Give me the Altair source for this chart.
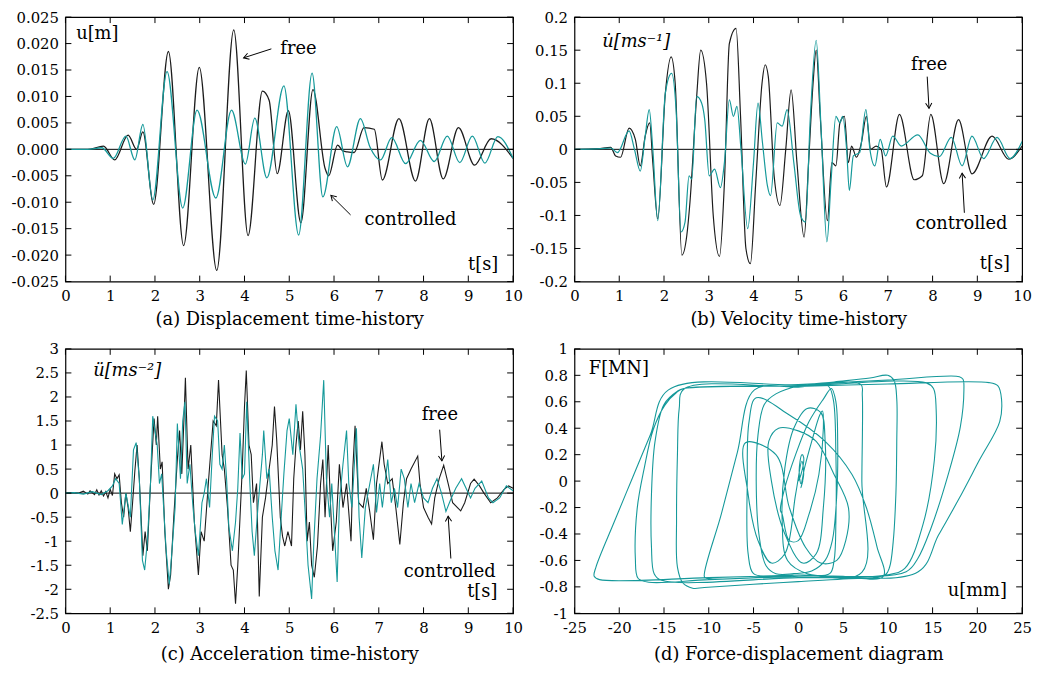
import math
import altair as alt
import pandas as pd

FONT = "DejaVu Serif"
BLACK = "#1c1c1c"
TEAL = "#15999a"
W, H = 452, 267
TICK = 6

# ---------------- (a) displacement [t (s), u (m)] ----------------
DISP_FREE = [(0, 0), (0.5, 0), (0.85, 0.0006), (1.1, -0.002), (1.4, 0.0027), (1.59, 0.0), (1.73, 0.0033),
             (1.97, -0.0104), (2.3, 0.0185), (2.64, -0.0182), (2.99, 0.0155), (3.38, -0.0229), (3.76, 0.0226),
             (4.08, -0.0163), (4.40, 0.011), (4.55, 0.0093), (4.73, -0.0046), (4.98, 0.0073), (5.26, -0.0139),
             (5.53, 0.0113), (5.8, -0.0036), (5.88, -0.005), (6.08, 0.0008), (6.2, -0.0003), (6.3, -0.0005),
             (6.45, -0.0006), (6.67, 0.0041), (6.9, 0.0038), (7.08, -0.0058), (7.45, 0.0058), (7.82, -0.006),
             (8.13, 0.0058), (8.44, -0.0056), (8.78, 0.0041), (9.14, -0.003), (9.51, 0.002), (10.0, -0.0017)]
DISP_CTRL = [(0, 0), (0.5, 0), (0.81, 0.0003), (1.07, -0.0017), (1.35, 0.0025), (1.55, -0.002), (1.73, 0.0047),
             (1.95, -0.0096), (2.27, 0.0147), (2.62, -0.0111), (2.94, 0.0074), (3.36, -0.0092), (3.71, 0.0074),
             (4.02, -0.0028), (4.23, 0.0059), (4.5, -0.0054), (4.88, 0.012), (5.21, -0.0162), (5.51, 0.0144),
             (5.75, -0.009), (6.06, 0.0043), (6.3, -0.0033), (6.59, 0.0058), (6.8, 0.0005), (7.04, -0.002),
             (7.29, 0.0022), (7.6, -0.0027), (7.93, 0.0017), (8.24, -0.0023), (8.53, 0.0025), (8.81, -0.0025),
             (9.09, 0.0025), (9.37, -0.0026), (9.66, 0.0024), (10.0, -0.0017)]

# ---------------- (b) velocity [t (s), v (m/s)] ----------------
VEL_FREE = [(0, 0), (0.52, 0.001), (0.81, 0.003), (0.92, -0.010), (1.03, -0.012), (1.22, 0.032), (1.36, 0.015),
            (1.47, -0.025), (1.58, 0.020), (1.68, 0.040), (1.75, -0.020), (1.86, -0.105), (2.03, 0.085),
            (2.16, 0.140), (2.25, 0.100), (2.40, -0.160), (2.51, -0.130), (2.58, -0.080), (2.73, 0.080),
            (2.82, 0.150), (2.95, 0.100), (3.10, -0.100), (3.24, -0.162), (3.35, -0.050), (3.46, 0.160),
            (3.61, 0.183), (3.71, 0.050), (3.83, -0.150), (3.93, -0.173), (4.05, -0.050), (4.19, 0.100),
            (4.26, 0.128), (4.33, 0.110), (4.46, -0.040), (4.59, -0.085), (4.72, 0.000), (4.84, 0.090),
            (4.97, -0.020), (5.13, -0.133), (5.23, -0.020), (5.33, 0.100), (5.40, 0.150), (5.49, 0.050),
            (5.65, -0.108), (5.75, -0.020), (5.84, -0.025), (5.93, 0.040), (6.03, 0.050), (6.12, -0.020),
            (6.19, 0.005), (6.30, -0.012), (6.41, 0.010), (6.52, 0.050), (6.62, 0.000), (6.74, 0.005),
            (6.85, 0.000), (6.97, -0.057), (7.26, 0.053), (7.59, -0.046), (7.77, -0.040), (7.96, 0.053),
            (8.25, -0.052), (8.58, 0.045), (8.88, -0.037), (9.33, 0.020), (9.70, -0.015), (10.0, 0.005)]
VEL_CTRL = [(0, 0), (0.6, 0.001), (0.81, 0.002), (0.96, -0.005), (1.22, 0.028), (1.34, 0.0), (1.47, -0.033),
            (1.58, 0.020), (1.67, 0.060), (1.75, 0.0), (1.86, -0.108), (2.03, 0.085), (2.17, 0.115), (2.27, 0.060),
            (2.38, -0.125), (2.47, -0.110), (2.56, -0.040), (2.62, -0.045), (2.73, 0.080), (2.84, 0.070),
            (2.91, 0.045), (3.01, -0.040), (3.13, -0.030), (3.26, -0.058), (3.35, -0.020), (3.46, 0.075),
            (3.55, 0.050), (3.63, 0.065), (3.72, 0.0), (3.87, -0.120), (4.00, -0.020), (4.10, 0.070),
            (4.20, 0.010), (4.31, -0.055), (4.38, -0.070), (4.53, 0.040), (4.64, 0.035), (4.75, 0.060),
            (4.90, -0.020), (5.05, -0.100), (5.16, -0.110), (5.27, 0.050), (5.40, 0.165), (5.51, 0.030),
            (5.64, -0.140), (5.73, -0.050), (5.84, 0.050), (5.93, 0.040), (5.99, 0.050), (6.08, 0.0),
            (6.14, -0.062), (6.23, -0.010), (6.37, -0.005), (6.51, 0.060), (6.60, 0.0), (6.71, -0.025),
            (6.83, 0.015), (6.95, -0.010), (7.11, 0.020), (7.30, 0.005), (7.67, 0.022), (7.95, -0.006),
            (8.15, -0.011), (8.42, 0.018), (8.66, -0.025), (8.88, 0.020), (9.14, -0.014), (9.44, 0.018),
            (9.73, -0.014), (10.0, 0.012)]

# ---------------- (c) acceleration [t (s), a (m/s2)] ----------------
ACC_FREE = [(0, 0), (0.15, 0.01), (0.3, 0.0), (0.4, 0.04), (0.5, -0.02), (0.55, 0.05), (0.65, -0.03), (0.7, 0.07),
            (0.75, -0.04), (0.8, 0.05), (0.85, -0.06), (0.9, 0.03), (0.95, -0.1), (1.0, 0.08), (1.05, -0.05),
            (1.1, 0.4), (1.15, 0.3), (1.2, 0.38), (1.25, -0.2), (1.3, -0.5), (1.35, 0.0), (1.4, -0.3), (1.45, -0.8),
            (1.5, -0.2), (1.55, 0.45), (1.6, 1.0), (1.65, 0.3), (1.73, -1.3), (1.78, -0.8), (1.83, -1.2), (1.9, 0.2),
            (1.98, 1.55), (2.03, 1.0), (2.06, 1.6), (2.12, 0.5), (2.16, 0.65), (2.22, -0.8), (2.3, -2.0),
            (2.35, -1.7), (2.42, -0.5), (2.5, 0.7), (2.55, 1.3), (2.6, 0.4), (2.65, 1.6), (2.68, 2.4), (2.74, 0.5),
            (2.8, 1.0), (2.88, -0.6), (2.97, -1.7), (3.03, -0.8), (3.1, -1.0), (3.2, 0.3), (3.3, 1.5), (3.37, 1.4),
            (3.42, 2.35), (3.5, 0.8), (3.55, 0.5), (3.62, -0.3), (3.7, -1.5), (3.75, -1.6), (3.8, -2.3),
            (3.85, -1.5), (3.9, -0.5), (3.95, 0.5), (4.0, 1.8), (4.04, 2.55), (4.1, 1.0), (4.15, 0.8), (4.2, -0.2),
            (4.27, 0.2), (4.33, -2.15), (4.4, -0.5), (4.47, -0.1), (4.55, 0.5), (4.62, 1.0), (4.67, 1.8),
            (4.72, 1.1), (4.8, -0.5), (4.85, -0.9), (4.9, -1.1), (4.97, -0.8), (5.05, -1.1), (5.1, 0.3), (5.15, 1.0),
            (5.2, 1.5), (5.25, 0.9), (5.3, 1.7), (5.35, 0.8), (5.4, -1.0), (5.45, -0.6), (5.5, -1.5), (5.56, -1.75),
            (5.63, -1.1), (5.7, 0.2), (5.75, 0.7), (5.8, -0.5), (5.87, 1.0), (5.92, -0.2), (5.97, -1.2),
            (6.05, -0.6), (6.12, 0.6), (6.2, -0.3), (6.28, 0.2), (6.38, -1.0), (6.42, 0.5), (6.47, 1.4),
            (6.55, -0.2), (6.65, -0.3), (6.72, 0.1), (6.8, -0.4), (6.88, -0.97), (6.95, 0.2), (7.07, 1.07),
            (7.12, 0.6), (7.2, 0.2), (7.3, 0.3), (7.38, -0.3), (7.47, -1.07), (7.55, -0.2), (7.62, 0.3),
            (7.72, 0.5), (7.87, 0.77), (7.92, 0.2), (8.0, -0.3), (8.1, -0.5), (8.18, -0.64), (8.25, -0.1),
            (8.35, 0.3), (8.45, 0.58), (8.55, 0.2), (8.65, -0.2), (8.83, -0.37), (8.92, -0.2), (9.05, 0.2),
            (9.13, 0.29), (9.25, 0.15), (9.35, 0.0), (9.5, -0.2), (9.65, -0.1), (9.8, 0.08), (9.9, 0.15),
            (10.0, 0.1)]
ACC_CTRL = [(0, 0), (0.2, 0.01), (0.4, -0.02), (0.6, 0.03), (0.8, -0.03), (0.95, 0.05), (1.05, 0.15), (1.12, 0.3),
            (1.2, 0.2), (1.27, -0.65), (1.35, 0.0), (1.45, -0.5), (1.52, 0.9), (1.58, 1.05), (1.65, 0.3),
            (1.72, -1.4), (1.77, -1.6), (1.83, -1.0), (1.9, 0.2), (1.95, 1.6), (2.05, 1.0), (2.1, 0.2), (2.15, 0.4),
            (2.25, -1.2), (2.32, -1.9), (2.38, -1.2), (2.45, -0.3), (2.5, 1.45), (2.57, 0.3), (2.62, 1.5),
            (2.67, 1.9), (2.72, 0.2), (2.78, 0.6), (2.85, -0.3), (2.9, -0.8), (2.97, -1.3), (3.05, -0.2),
            (3.1, 0.0), (3.15, 0.3), (3.22, -0.3), (3.28, 0.8), (3.33, 1.6), (3.4, 1.5), (3.45, 0.6), (3.5, 0.5),
            (3.55, 1.0), (3.6, 0.3), (3.65, -0.7), (3.73, -1.2), (3.8, -0.6), (3.85, 0.1), (3.9, 1.25),
            (3.95, 0.3), (4.0, 0.4), (4.05, 1.9), (4.12, 0.2), (4.17, -0.8), (4.22, -1.3), (4.3, -0.3), (4.4, 0.8),
            (4.43, 1.3), (4.5, 0.3), (4.55, 0.5), (4.62, -0.5), (4.68, -1.2), (4.75, -1.6), (4.82, -0.5),
            (4.88, 0.4), (4.95, 1.3), (5.0, 1.55), (5.08, 0.8), (5.15, 1.85), (5.22, 1.0), (5.3, 0.5), (5.35, -0.3),
            (5.42, -1.5), (5.5, -2.2), (5.55, -1.0), (5.62, 0.3), (5.7, 1.2), (5.77, 2.35), (5.83, 0.3),
            (5.9, -0.5), (5.95, 0.2), (6.02, -1.0), (6.07, -1.85), (6.12, -0.2), (6.2, 0.6), (6.28, 1.3),
            (6.33, 0.2), (6.4, -0.3), (6.5, 1.35), (6.56, -0.5), (6.62, -1.35), (6.7, -0.3), (6.8, 0.2),
            (6.88, 0.6), (6.95, -0.4), (7.02, 0.2), (7.08, -0.3), (7.15, 0.3), (7.2, 0.7), (7.28, -0.2),
            (7.35, 0.1), (7.42, -0.3), (7.5, 0.5), (7.57, 0.3), (7.65, -0.3), (7.72, 0.2), (7.8, -0.2), (7.9, 0.2),
            (8.0, -0.1), (8.1, -0.2), (8.2, 0.1), (8.3, 0.3), (8.4, 0.0), (8.5, -0.38), (8.6, -0.15), (8.72, 0.1),
            (8.85, 0.3), (8.95, 0.1), (9.05, -0.1), (9.15, 0.1), (9.3, 0.25), (9.45, -0.1), (9.55, -0.2),
            (9.7, -0.1), (9.85, 0.15), (10.0, 0.05)]

# ---------------- (d) force-displacement path [u (mm), F (MN)] ----------------
FD_PATH = [
    (0, 0), (0.3, 0.05), (0.6, 0.18), (0.4, 0.2), (0.1, 0.08), (0.3, -0.02), (0.7, 0.1),
    (1.5, 0.3), (2.4, 0.5), (2.7, 0.53), (2.8, 0.4), (2.3, 0.05), (1.2, -0.25), (0.0, -0.45), (-1.0, -0.45),
    (-1.8, -0.25), (-2.0, -0.22), (-1.5, -0.05), (-0.3, 0.2),
    (1.2, 0.45), (2.8, 0.62), (3.7, 0.7), (4.2, 0.6), (4.4, 0.3), (4.3, -0.1), (3.8, -0.45), (3.0, -0.6),
    (1.5, -0.68), (-0.5, -0.7), (-2.5, -0.7), (-3.6, -0.64), (-4.4, -0.4), (-4.7, 0.0), (-4.5, 0.35),
    (-3.8, 0.58), (-2.5, 0.66),
    (0.0, 0.72), (4.0, 0.75), (8.0, 0.78), (10.0, 0.80), (10.7, 0.76), (11.0, 0.62), (11.0, 0.3), (10.9, -0.1),
    (10.6, -0.46), (10.2, -0.65), (9.7, -0.71), (5.0, -0.74), (0.0, -0.76), (-5.0, -0.78), (-10.5, -0.805),
    (-11.8, -0.81), (-12.9, -0.77), (-13.5, -0.65), (-13.6, -0.3), (-13.5, 0.2), (-13.3, 0.55), (-12.8, 0.695),
    (0.0, 0.715), (10.0, 0.735), (21.3, 0.745), (22.3, 0.72), (22.7, 0.62), (22.5, 0.45), (20.2, 0.155),
    (17.9, -0.14), (15.65, -0.41), (13.4, -0.685), (0.0, -0.71), (-10.0, -0.73), (-22.2, -0.745),
    (-22.8, -0.72), (-22.6, -0.65), (-20.6, -0.315), (-18.55, 0.02), (-16.5, 0.355), (-14.5, 0.69),
    (0.0, 0.73), (10.0, 0.765), (18.0, 0.79), (18.4, 0.77), (18.5, 0.69), (18.1, 0.41), (16.7, 0.04),
    (14.8, -0.36), (13.35, -0.585), (12.05, -0.685), (0.0, -0.72), (-10.0, -0.745), (-16.7, -0.765),
    (-17.9, -0.735), (-18.2, -0.585), (-18.0, -0.21), (-17.2, 0.1), (-16.2, 0.39), (-14.9, 0.575),
    (-13.6, 0.67), (-12.8, 0.70),
    (0.0, 0.72), (14.3, 0.743), (15.1, 0.70), (15.4, 0.54), (15.2, 0.16), (13.9, -0.335), (11.9, -0.66),
    (9.85, -0.71), (0.0, -0.73), (-15.3, -0.75), (-16.1, -0.7), (-16.4, -0.5), (-16.4, -0.1), (-16.0, 0.3),
    (-15.0, 0.58), (-13.5, 0.68), (-12.8, 0.70),
    (0.0, 0.72), (7.0, 0.73), (7.15, 0.65), (7.1, 0.0), (7.1, -0.69), (0.0, -0.71), (-10.3, -0.735),
    (-10.5, -0.72), (-8.6, -0.25), (-6.8, 0.22), (-4.9, 0.69),
    (0.0, 0.71), (3.3, 0.72), (3.9, 0.62), (4.2, 0.2), (4.2, -0.3), (4.0, -0.6), (3.5, -0.7), (0.0, -0.71),
    (-2.7, -0.72), (-5.0, -0.7), (-5.6, -0.55), (-5.7, 0.0), (-5.5, 0.45), (-4.7, 0.63),
    (-1.0, 0.5), (3.0, 0.3), (6.0, 0.05), (7.6, -0.2), (8.8, -0.5), (9.5, -0.72), (5.0, -0.72), (1.0, -0.7),
    (-1.2, -0.6), (-1.8, -0.3), (-1.5, 0.1), (-0.5, 0.4), (1.0, 0.55), (2.5, 0.52), (3.0, 0.3), (2.8, -0.2),
    (2.0, -0.55), (0.5, -0.62),
    (-1.5, -0.4), (-3.0, 0.0), (-3.3, 0.3), (-2.2, 0.4), (0.0, 0.38), (2.0, 0.3), (4.0, 0.05), (5.6, -0.2),
    (5.3, -0.45), (4.3, -0.6), (2.5, -0.62), (0.8, -0.5), (-1.0, -0.2), (-2.5, 0.2), (-5.9, 0.29),
    (-5.6, -0.1), (-4.5, -0.45), (-3.0, -0.62), (-1.5, -0.55), (-0.3, -0.1), (0.4, 0.15), (0.6, 0.05),
    (0.3, -0.05), (0.5, 0.0)]

# ---------------- axes ----------------
T_TICKS = [0, 1, 2, 3, 4, 5, 6, 7, 8, 9, 10]
DISP_TICKS = [-0.025, -0.02, -0.015, -0.01, -0.005, 0, 0.005, 0.01, 0.015, 0.02, 0.025]
VEL_TICKS = [-0.2, -0.15, -0.1, -0.05, 0, 0.05, 0.1, 0.15, 0.2]
ACC_TICKS = [-2.5, -2, -1.5, -1, -0.5, 0, 0.5, 1, 1.5, 2, 2.5, 3]
F_TICKS = [-1, -0.8, -0.6, -0.4, -0.2, 0, 0.2, 0.4, 0.6, 0.8, 1]
U_TICKS = [-25, -20, -15, -10, -5, 0, 5, 10, 15, 20, 25]

ARROW_PATH = "M -1 -0.6 L 0 0 L -1 0.6"


def lbl(fmt):
    return f"(datum.value < 0 ? '-' : '') + format(abs(datum.value), '{fmt}')"


def panel(series, xdom, ydom, xticks, yticks, xfmt, yfmt, caption, texts, arrows, extent, cap_pad,
          zero=True, ordered=False):
    xs = alt.Scale(domain=xdom, nice=False, zero=False)
    ys = alt.Scale(domain=ydom, nice=False, zero=False)
    xaxis = alt.Axis(values=xticks, labelExpr=lbl(xfmt), title=caption, labelOverlap=False, labelFlush=False,
                     titlePadding=cap_pad)
    yaxis = alt.Axis(values=yticks, labelExpr=lbl(yfmt), title=None, labelOverlap=False, labelFlush=False,
                     minExtent=extent, maxExtent=extent)

    def X(f):
        return alt.X(f, type="quantitative", scale=xs, axis=xaxis)

    def Y(f):
        return alt.Y(f, type="quantitative", scale=ys, axis=yaxis)

    layers = []
    if zero:
        layers.append(alt.Chart(pd.DataFrame({"x": [xdom[0]], "y": [0]})).mark_rule(color="black", strokeWidth=1)
                      .encode(y=Y("y")))
    for pts, color, interp, sw in series:
        df = pd.DataFrame(pts, columns=["x", "y"])
        df["i"] = range(len(df))
        enc = dict(x=X("x"), y=Y("y"))
        if ordered:
            enc["order"] = alt.Order("i:Q")
        layers.append(alt.Chart(df).mark_line(color=color, strokeWidth=sw, interpolate=interp, clip=True)
                      .encode(**enc))
    for (tx, ty, text, align, size, style) in texts:
        df = pd.DataFrame({"x": [tx], "y": [ty], "label": [text]})
        layers.append(alt.Chart(df).mark_text(align=align, baseline="middle", font=FONT, fontSize=size,
                                             fontStyle=style, color="black")
                      .encode(x=X("x"), y=Y("y"), text="label:N"))
    for tail, tip in arrows:
        df = pd.DataFrame({"x": [tail[0], tip[0]], "y": [tail[1], tip[1]], "i": [0, 1]})
        layers.append(alt.Chart(df).mark_line(color="black", strokeWidth=1)
                      .encode(x=X("x"), y=Y("y"), order=alt.Order("i:Q")))
        dx = (tip[0] - tail[0]) / (xdom[1] - xdom[0]) * W
        dy = -(tip[1] - tail[1]) / (ydom[1] - ydom[0]) * H
        ang = math.degrees(math.atan2(dy, dx)) % 360
        hd = pd.DataFrame({"x": [tip[0]], "y": [tip[1]]})
        layers.append(alt.Chart(hd).mark_point(shape=ARROW_PATH, filled=False, size=110, angle=ang,
                                               color="black", strokeWidth=1, opacity=1)
                      .encode(x=X("x"), y=Y("y")))
    ty = pd.DataFrame({"v": yticks})
    tx = pd.DataFrame({"v": xticks})
    tick = dict(color="black", strokeWidth=1)
    layers += [
        alt.Chart(ty).mark_rule(**tick).encode(y=Y("v"), x=alt.value(0), x2=alt.value(TICK)),
        alt.Chart(ty).mark_rule(**tick).encode(y=Y("v"), x=alt.value(W - TICK), x2=alt.value(W)),
        alt.Chart(tx).mark_rule(**tick).encode(x=X("v"), y=alt.value(H - TICK), y2=alt.value(H)),
        alt.Chart(tx).mark_rule(**tick).encode(x=X("v"), y=alt.value(0), y2=alt.value(TICK)),
    ]
    return alt.layer(*layers).properties(width=W, height=H)


pa = panel([(DISP_FREE, BLACK, "monotone", 1.3), (DISP_CTRL, TEAL, "monotone", 1.3)],
           [0, 10], [-0.025, 0.025], T_TICKS, DISP_TICKS, "~g", ".3f",
           "(a) Displacement time-history",
           [(0.24, 0.0218, "u[m]", "left", 18, "normal"), (4.8, 0.019, "free", "left", 18, "normal"),
            (6.68, -0.0134, "controlled", "left", 18, "normal"), (9.67, -0.0218, "t[s]", "right", 18, "normal")],
           [((4.60, 0.0190), (3.98, 0.0173)), ((6.37, -0.0124), (5.93, -0.0087))], 55, 7)

pb = panel([(VEL_FREE, BLACK, "monotone", 1.2), (VEL_CTRL, TEAL, "monotone", 1.2)],
           [0, 10], [-0.2, 0.2], T_TICKS, VEL_TICKS, "~g", "~g",
           "(b) Velocity time-history",
           [(0.62, 0.1625, "u\u0307[ms\u207b\u00b9]", "left", 18, "italic"),
            (7.52, 0.128, "free", "left", 18, "normal"),
            (7.62, -0.1126, "controlled", "left", 18, "normal"), (9.73, -0.173, "t[s]", "right", 18, "normal")],
           [((7.88, 0.110), (7.92, 0.062)), ((8.71, -0.096), (8.66, -0.036))], 50, 7)

pc = panel([(ACC_FREE, BLACK, "linear", 1.1), (ACC_CTRL, TEAL, "linear", 1.1)],
           [0, 10], [-2.5, 3], T_TICKS, ACC_TICKS, "~g", "~g",
           "(c) Acceleration time-history",
           [(0.62, 2.54, "\u00fc[ms\u207b\u00b2]", "left", 18, "italic"),
            (7.96, 1.63, "free", "left", 18, "normal"),
            (7.56, -1.65, "controlled", "left", 18, "normal"), (9.65, -2.06, "t[s]", "right", 18, "normal")],
           [((8.36, 1.32), (8.41, 0.67)), ((8.61, -1.36), (8.55, -0.48))], 55, 11)

pd_ = panel([(FD_PATH, TEAL, "catmull-rom", 1.1)],
            [-25, 25], [-1, 1], U_TICKS, F_TICKS, "~g", "~g",
            "(d) Force-displacement diagram",
            [(-23.4, 0.85, "F[MN]", "left", 18, "normal"), (23.3, -0.83, "u[mm]", "right", 18, "normal")],
            [], 50, 11, zero=False, ordered=True)

row1 = alt.hconcat(pa, pb, spacing=0)
row2 = alt.hconcat(pc, pd_, spacing=0)
chart = (alt.vconcat(row1, row2, spacing=12)
         .properties(padding={"left": 2, "top": -2, "right": 0, "bottom": 0})
         .configure_view(stroke="black", strokeWidth=1.2)
         .configure_axis(labelFont=FONT, labelFontSize=15, labelColor="black", titleFont=FONT,
                         titleFontSize=18, titleFontWeight="normal", titleColor="black", domain=False,
                         ticks=False, grid=False, labelPadding=7, labelFlush=False))

chart.save("out.html", embed_options={"renderer": "svg", "actions": False})
